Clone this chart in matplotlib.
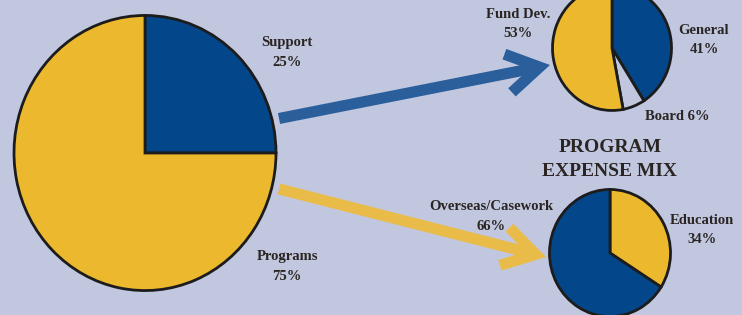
import numpy as np
import matplotlib.pyplot as plt
from matplotlib.patches import FancyArrowPatch

# data
main_labels = ['Support', 'Programs']
main_vals = [25, 75]
support_labels = ['General', 'Board', 'Fund Dev.']
support_vals = [41, 6, 53]
program_labels = ['Education', 'Overseas/Casework']
program_vals = [34, 66]

BG = '#c2c7e0'
YEL = '#ecb92e'
BLUE = '#03478a'
INK = '#2a2523'

W, H = 742, 315
S = 1.05  # the picture is a little taller than wide


def py(y):
    return (H - y) / S


fig = plt.figure(figsize=(W / 100, H / 100), dpi=100)
fig.patch.set_facecolor(BG)
ax = fig.add_axes([0, 0, 1, 1])
ax.set_facecolor(BG)

wp = dict(edgecolor='#1c1c1c', linewidth=2)

ax.pie(main_vals, colors=[BLUE, YEL], startangle=90, counterclock=False,
       center=(145, py(153)), radius=131, wedgeprops=wp, frame=True)
ax.pie(support_vals, colors=[BLUE, BG, YEL], startangle=90, counterclock=False,
       center=(612, py(48)), radius=59.5, wedgeprops=wp, frame=True)
ax.pie(program_vals, colors=[YEL, BLUE], startangle=90, counterclock=False,
       center=(610, py(253)), radius=60.5, wedgeprops=wp, frame=True)

# arrows
for (x0, y0), (x1, y1), c in [((279, 118.5), (550, 65), '#2a5f9c'),
                              ((279, 189), (546, 257), '#e9bc4a')]:
    arr = FancyArrowPatch((x0, py(y0)), (x1, py(y1)),
                          arrowstyle='->,head_length=23,head_width=14',
                          mutation_scale=1, linewidth=8, color=c,
                          shrinkA=0, shrinkB=0, capstyle='butt',
                          joinstyle='miter', zorder=3)
    ax.add_patch(arr)

fnt = dict(family=['Liberation Serif', 'DejaVu Serif'], fontweight='bold',
           color=INK, ha='center', va='center', fontsize=10.5, linespacing=1.65)

ax.text(287, py(52.5), f'{main_labels[0]}\n{main_vals[0]}%', **fnt)
ax.text(287, py(266.5), f'{main_labels[1]}\n{main_vals[1]}%', **fnt)
ax.text(518, py(24), f'{support_labels[2]}\n{support_vals[2]}%', **fnt)
ax.text(704, py(40), f'{support_labels[0]}\n{support_vals[0]}%', **fnt)
ax.text(677, py(116), f'{support_labels[1]} {support_vals[1]}%', **fnt)
ax.text(491, py(216.5), f'{program_labels[1]}\n{program_vals[1]}%', **fnt)
ax.text(702, py(230), f'{program_labels[0]}\n{program_vals[0]}%', **fnt)
ax.text(610, py(159.5), 'PROGRAM\nEXPENSE MIX',
        **{**fnt, 'fontsize': 14, 'linespacing': 1.5})

ax.set_xlim(0, W)
ax.set_ylim(0, H / S)
ax.set_aspect('auto')
ax.axis('off')

fig.savefig('out.png', dpi=100, facecolor=BG)
